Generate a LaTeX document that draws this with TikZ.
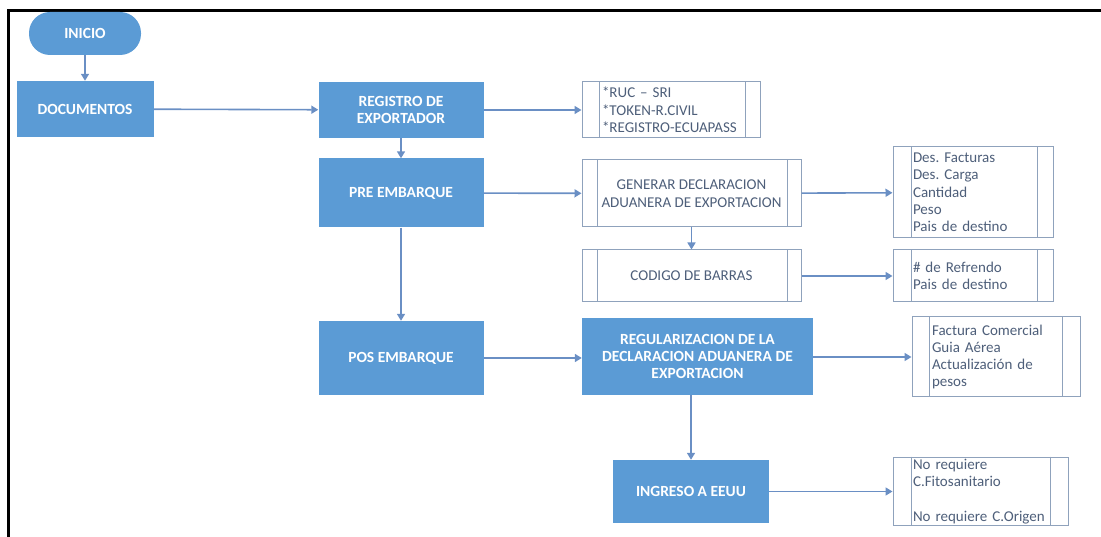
\documentclass[tikz,border=0pt]{standalone}
\usepackage{fontspec}
\setmainfont{Carlito}
\usepackage{tikz}
\usetikzlibrary{positioning, arrows.meta}
\frenchspacing

\definecolor{boxblue}{HTML}{5B9BD5}
\definecolor{linegray}{HTML}{8FA2BC}
\definecolor{txtgray}{HTML}{4E5F7A}
\definecolor{arrowblue}{HTML}{6A8FC4}

\tikzset{
  flowbox/.style={fill=boxblue, text=white, align=center, inner sep=2pt,
    font=\fontsize{15.5}{17}\selectfont\bfseries},
  infobox/.style={draw=linegray, line width=1pt, fill=white, text=txtgray,
    align=left, inner xsep=20pt, inner ysep=2pt,
    font=\fontsize{15}{17.3}\selectfont},
  procbox/.style={draw=linegray, line width=1pt, fill=white, text=txtgray,
    align=center, inner sep=2pt, font=\fontsize{15}{17.5}\selectfont},
  arr/.style={draw=arrowblue, line width=1.6pt,
    -{Triangle[length=7pt,width=8pt]}}
}

% two inner bars of a predefined-process box
\newcommand{\procbars}[3]{%
  \draw [linegray, line width=1pt] ([xshift=#2]#1.north west) -- ([xshift=#2]#1.south west)
        ([xshift=-#3]#1.north east) -- ([xshift=-#3]#1.south east);}

\begin{document}
\begin{tikzpicture}[x=1pt, y=-1pt]
  \useasboundingbox (0,0) rectangle (1101,537);
  \draw [line width=2.5pt] (8.5,537) -- (8.5,10.5) -- (1101,10.5);   % frame

  % main column
  \node [flowbox, rounded corners=21pt, minimum width=112pt, minimum height=43pt] (inicio) at (85,33.5) {INICIO};
  \node [flowbox, minimum width=137pt, minimum height=56pt] (docs) at (85,109) {DOCUMENTOS};
  \node [flowbox, minimum width=165pt, minimum height=56pt] (registro) at (401,110) {REGISTRO DE\\EXPORTADOR};
  \node [flowbox, minimum width=165pt, minimum height=69pt] (pre) at (401,193) {PRE EMBARQUE};
  \node [flowbox, minimum width=165pt, minimum height=74pt] (pos) at (401,358) {POS EMBARQUE};

  % second column
  \node [procbox, minimum width=219pt, minimum height=67pt] (generar) at (691.5,193.5) {GENERAR DECLARACION\\ADUANERA DE EXPORTACION};
  \procbars{generar}{16pt}{14pt}
  \node [procbox, minimum width=219pt, minimum height=52pt] (codigo) at (691.5,276) {CODIGO DE BARRAS};
  \procbars{codigo}{16pt}{14pt}
  \node [flowbox, minimum width=231pt, minimum height=77pt] (regular) at (697.5,356.5) {REGULARIZACION DE LA\\DECLARACION ADUANERA DE\\EXPORTACION};
  \node [flowbox, minimum width=156pt, minimum height=63pt] (ingreso) at (691,491.5) {INGRESO A EEUU};

  % detail boxes
  \node [infobox, text width=138pt, minimum height=56pt] (req) at (671,110) {{*}RUC -- SRI\\{*}TOKEN-R.CIVIL\\{*}REGISTRO-ECUAPASS};
  \procbars{req}{18pt}{15pt}
  \node [infobox, text width=120pt, minimum height=91pt] (datos) at (973,192.5) {Des. Facturas\\Des. Carga\\Cantidad\\Peso\\Pais de destino};
  \procbars{datos}{19pt}{16pt}
  \node [infobox, text width=120pt, minimum height=52pt] (refrendo) at (973,276) {\# de Refrendo\\Pais de destino};
  \procbars{refrendo}{19pt}{16pt}
  \node [infobox, text width=128pt, minimum height=80pt] (factura) at (996,357) {Factura Comercial\\Guia Aérea\\Actualización de\\pesos};
  \procbars{factura}{18pt}{18pt}
  \node [infobox, text width=135pt, minimum height=67pt] (origen) at (980.5,491.5) {No requiere\\C.Fitosanitario\\\mbox{}\\No requiere C.Origen};
  \procbars{origen}{19pt}{18pt}

  % connectors
  \draw [arr] (inicio) -- (docs);
  \draw [arr] (docs) -- (registro);
  \draw [arr] (registro) -- (req);
  \draw [arr] (registro) -- (pre);
  \draw [arr] (pre) -- (generar);
  \draw [arr] (generar) -- (datos);
  \draw [arr] (generar) -- (codigo);
  \draw [arr] (codigo) -- (refrendo);
  \draw [arr] (pre) -- (pos);
  \draw [arr] (pos) -- (pos -| regular.west);
  \draw [arr] (regular.east |- factura) -- (factura);
  \draw [arr] (regular.south -| ingreso) -- (ingreso);
  \draw [arr] (ingreso) -- (ingreso -| origen.west);
\end{tikzpicture}
\end{document}
